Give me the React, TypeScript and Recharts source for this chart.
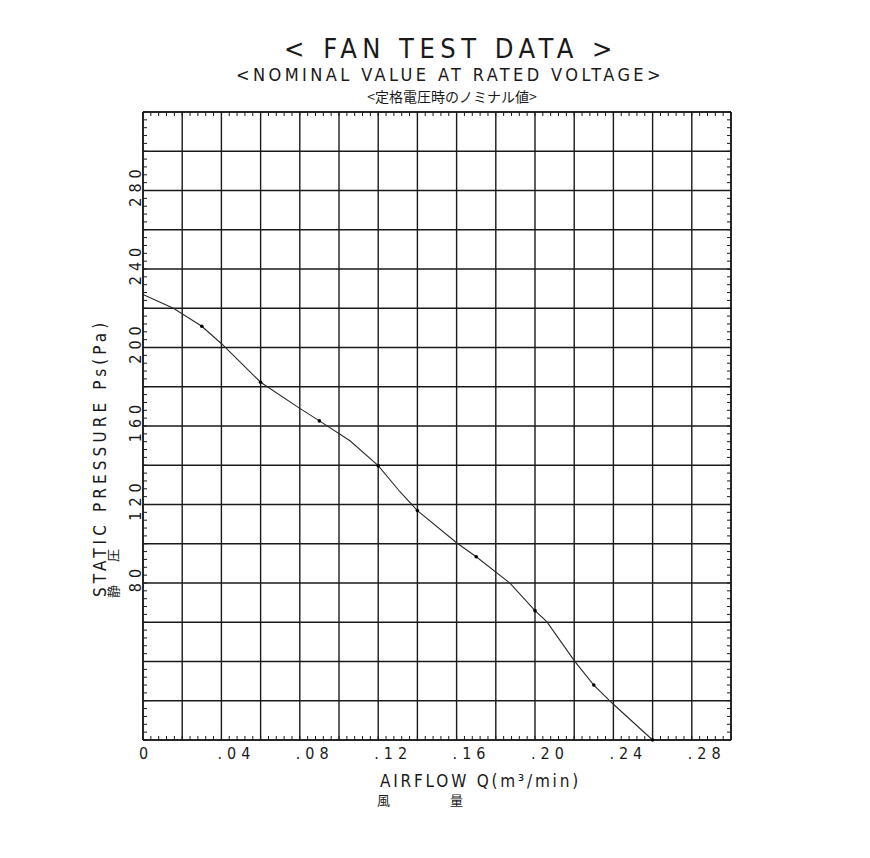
import { ComposedChart, Line, Scatter, XAxis, YAxis, CartesianGrid } from 'recharts'

// airflow Q (m3/min) and static pressure Ps (Pa)
const curveQ = [0, 0.0155, 0.03, 0.0402, 0.06, 0.08, 0.09, 0.1056, 0.12, 0.1311, 0.14, 0.16, 0.17, 0.1872, 0.2, 0.206, 0.2204, 0.23, 0.24, 0.26]
const curvePs = [227, 220, 210.8, 201.8, 182.3, 169, 162.6, 152.5, 139.8, 126.5, 116.9, 100.5, 93.4, 79.9, 65.9, 60.3, 39.9, 28, 18.2, 0]

// measured points shown as dots
const pointQ = [0.03, 0.06, 0.09, 0.12, 0.14, 0.17, 0.2, 0.23, 0.26]
const pointPs = [210.8, 182.3, 162.6, 139.8, 116.9, 93.4, 65.9, 28, 0]

const xTicks = [0, 0.02, 0.04, 0.06, 0.08, 0.1, 0.12, 0.14, 0.16, 0.18, 0.2, 0.22, 0.24, 0.26, 0.28, 0.3]
const xTickLabels = ['0', '', '.04', '', '.08', '', '.12', '', '.16', '', '.20', '', '.24', '', '.28', '']
const yTicks = [0, 20, 40, 60, 80, 100, 120, 140, 160, 180, 200, 220, 240, 260, 280, 300, 320]
const yTickLabels = ['', '', '', '', '80', '', '120', '', '160', '', '200', '', '240', '', '280', '', '']

const xMinor = Array.from({ length: 76 }, (_, i) => +(i * 0.004).toFixed(3))
const yMinor = Array.from({ length: 81 }, (_, i) => i * 4)

const curve = curveQ.map((q, i) => ({ q, ps: curvePs[i] }))
const points = pointQ.map((q, i) => ({ q, ps: pointPs[i] }))

const FONT = "'DejaVu Sans Condensed', 'Liberation Sans Narrow', 'DejaVu Sans', sans-serif"
const JP = "'Noto Sans CJK JP', sans-serif"
const INK = '#1a1a1a'
// axes must have a non-zero size or they are not drawn at all
const THIN = 0.01

const XTick = ({ x, y, payload }: any) => {
  const label = xTickLabels[xTicks.indexOf(payload.value)]
  if (!label) return <g />
  return (
    <text x={x - 4} y={y} dy={11} fontFamily={FONT} fontSize={16} letterSpacing={5} fill={INK}>
      {label}
    </text>
  )
}

const YTick = ({ x, y, payload }: any) => {
  const label = yTickLabels[yTicks.indexOf(payload.value)]
  if (!label) return <g />
  const cy = y - 5
  return (
    <text
      x={x + 6}
      y={cy}
      transform={`rotate(-90, ${x + 6}, ${cy})`}
      textAnchor="middle"
      fontFamily={FONT}
      fontSize={16}
      letterSpacing={5}
      fill={INK}
    >
      {label}
    </text>
  )
}

const noTick = () => <g />

export default function App() {
  return (
    <div style={{ position: 'absolute', left: 0, top: 0, width: 870, height: 858, background: '#fff' }}>
      <ComposedChart width={870} height={858} margin={{ top: 112, right: 139, bottom: 118, left: 143 }}>
        <CartesianGrid stroke={INK} strokeWidth={1.4} />
        <XAxis dataKey="q" type="number" domain={[0, 0.3]} ticks={xTicks} interval={0} height={THIN}
          tick={<XTick />} tickLine={false} axisLine={{ stroke: INK, strokeWidth: 1.6 }} />
        <XAxis xAxisId="bm" dataKey="q" type="number" domain={[0, 0.3]} ticks={xMinor} interval={0} height={THIN}
          mirror tickSize={4} tick={noTick} tickLine={{ stroke: INK }} axisLine={false} />
        <XAxis xAxisId="top" dataKey="q" orientation="top" type="number" domain={[0, 0.3]} ticks={xMinor} interval={0} height={THIN}
          mirror tickSize={4} tick={noTick} tickLine={{ stroke: INK }} axisLine={{ stroke: INK, strokeWidth: 1.6 }} />
        <YAxis type="number" domain={[0, 320]} ticks={yTicks} interval={0} width={THIN}
          tick={<YTick />} tickLine={false} axisLine={{ stroke: INK, strokeWidth: 1.6 }} />
        <YAxis yAxisId="lm" type="number" domain={[0, 320]} ticks={yMinor} interval={0} width={THIN}
          mirror tickSize={4} tick={noTick} tickLine={{ stroke: INK }} axisLine={false} />
        <YAxis yAxisId="right" orientation="right" type="number" domain={[0, 320]} ticks={yMinor} interval={0} width={THIN}
          mirror tickSize={4} tick={noTick} tickLine={{ stroke: INK }} axisLine={{ stroke: INK, strokeWidth: 1.6 }} />
        {/* invisible copies so the minor-tick axes get a scale */}
        <Line data={curve} dataKey="ps" xAxisId="bm" yAxisId="lm" stroke="none" dot={false} activeDot={false} isAnimationActive={false} />
        <Line data={curve} dataKey="ps" xAxisId="top" yAxisId="right" stroke="none" dot={false} activeDot={false} isAnimationActive={false} />
        <Line data={curve} dataKey="ps" type="linear" stroke="#2a2a2a" strokeWidth={1.1} dot={false} isAnimationActive={false} />
        <Scatter data={points} dataKey="ps" fill="#000" shape={(p: any) => <circle cx={p.cx} cy={p.cy} r={1.8} fill="#000" />}
          isAnimationActive={false} />
      </ComposedChart>
      <svg width={870} height={858} style={{ position: 'absolute', left: 0, top: 0, pointerEvents: 'none' }}>
        <g fontFamily={FONT} fill={INK}>
          <text x={451} y={58} textAnchor="middle" fontSize={27} letterSpacing={5.5}>{'< FAN TEST DATA >'}</text>
          <text x={450} y={81} textAnchor="middle" fontSize={18} letterSpacing={3.4}>{'<NOMINAL VALUE AT RATED VOLTAGE>'}</text>
          <text x={452} y={102} textAnchor="middle" fontSize={14} fontFamily={JP}>{'<定格電圧時のノミナル値>'}</text>
          <text x={380} y={787} fontSize={17} letterSpacing={2.8}>AIRFLOW Q(m³/min)</text>
          <text x={377} y={805} fontSize={13} fontFamily={JP}>風</text>
          <text x={450} y={805} fontSize={13} fontFamily={JP}>量</text>
          <text x={106} y={597} transform="rotate(-90, 106, 597)" fontSize={17} letterSpacing={4.1}>STATIC PRESSURE Ps(Pa)</text>
          <text x={118} y={598} transform="rotate(-90, 118, 598)" fontSize={13} fontFamily={JP}>静</text>
          <text x={118} y={562} transform="rotate(-90, 118, 562)" fontSize={13} fontFamily={JP}>圧</text>
        </g>
      </svg>
    </div>
  )
}
